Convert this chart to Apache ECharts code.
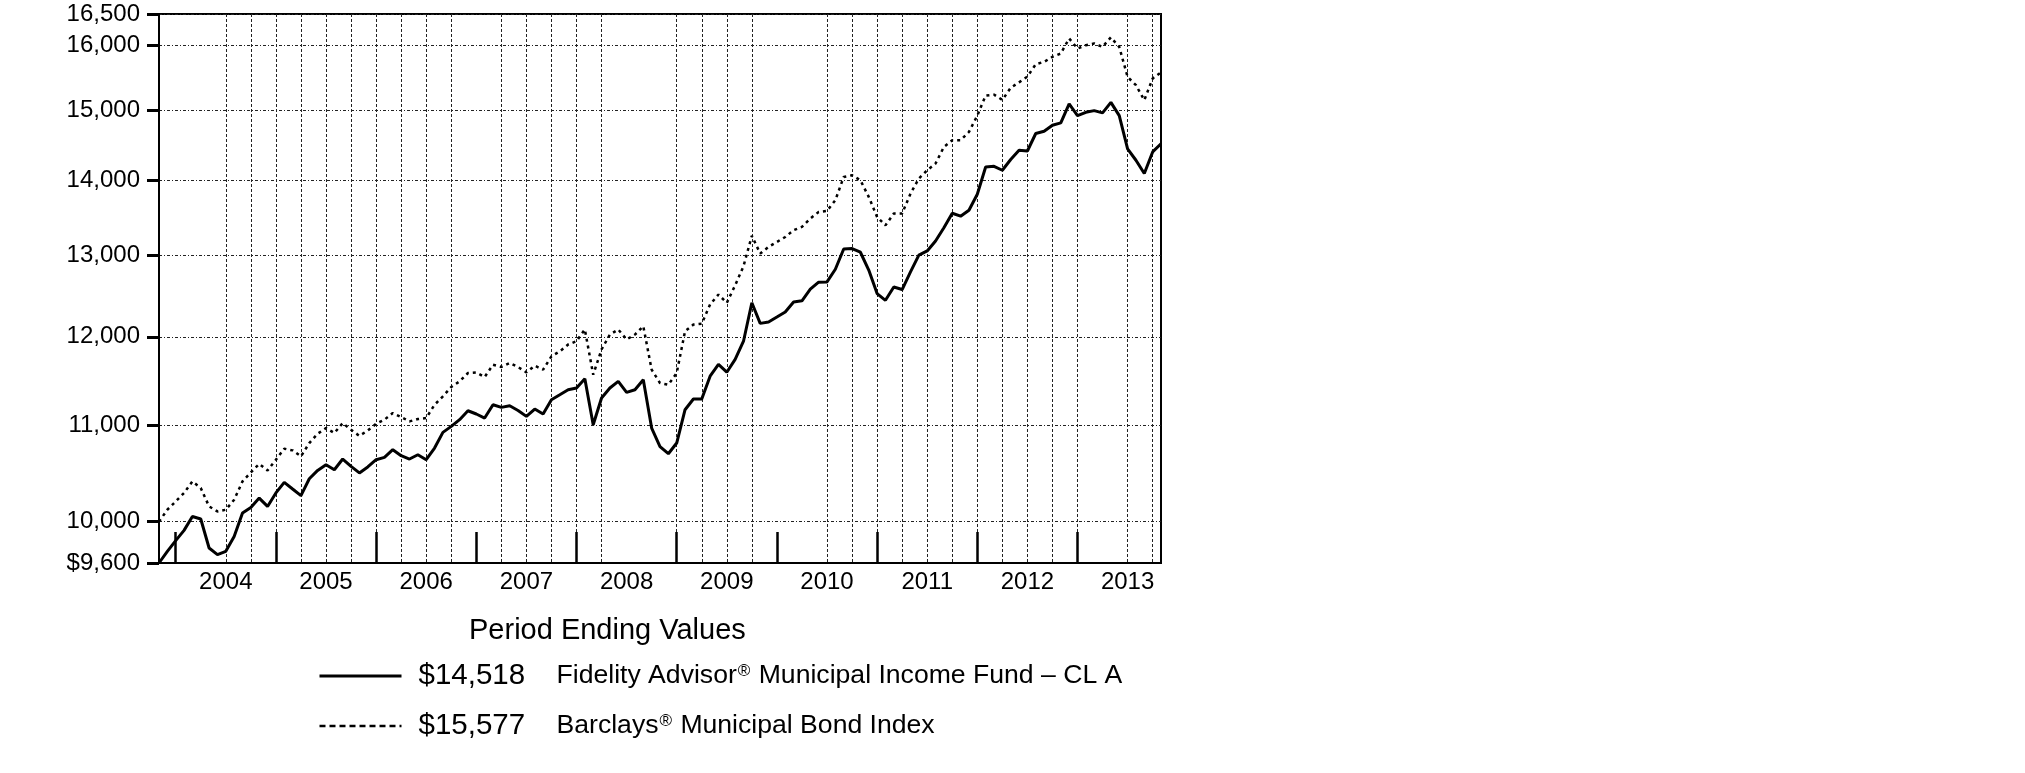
<!DOCTYPE html>
<html>
<head>
<meta charset="utf-8">
<script src="https://cdn.jsdelivr.net/npm/echarts@6/dist/echarts.min.js"></script>
<style>
html,body{margin:0;padding:0;background:#fff;}
#chart{width:2025px;height:773px;}
</style>
</head>
<body>
<div id="chart"></div>
<script>
// Month-end values, Oct 2003 .. Oct 2013
const fundValues = [
  9600, 9711, 9814, 9914, 10051, 10026, 9743, 9679, 9711, 9855,
  10085, 10141, 10235, 10151, 10287, 10395, 10327, 10260, 10432, 10518,
  10578, 10525, 10637, 10560, 10492, 10554, 10630, 10654, 10735, 10672,
  10637, 10682, 10630, 10753, 10920, 10985, 11058, 11156, 11120, 11076,
  11222, 11193, 11211, 11159, 11094, 11175, 11120, 11278, 11333, 11389,
  11409, 11514, 11003, 11297, 11409, 11484, 11360, 11389, 11503, 10967,
  10769, 10693, 10806, 11167, 11286, 11286, 11543, 11677, 11588, 11735,
  11948, 12410, 12160, 12177, 12237, 12298, 12419, 12434, 12577, 12664,
  12668, 12827, 13086, 13092, 13044, 12816, 12523, 12440, 12604, 12573,
  12793, 13006, 13061, 13189, 13363, 13556, 13516, 13596, 13812, 14189,
  14198, 14143, 14294, 14424, 14414, 14665, 14698, 14785, 14819, 15099,
  14926, 14975, 15000, 14966, 15123, 14926, 14444, 14283, 14097, 14401,
  14518
];
const indexValues = [
  10000, 10118, 10201, 10287, 10405, 10337, 10151, 10101, 10118, 10218,
  10405, 10498, 10585, 10518, 10630, 10746, 10728, 10665, 10806, 10906,
  10967, 10913, 11021, 10948, 10883, 10940, 11013, 11058, 11131, 11087,
  11039, 11065, 11076, 11222, 11315, 11420, 11484, 11579, 11586, 11533,
  11674, 11648, 11694, 11648, 11586, 11663, 11617, 11771, 11829, 11909,
  11948, 12087, 11560, 11851, 12027, 12087, 11968, 12027, 12126, 11617,
  11465, 11446, 11579, 12066, 12146, 12157, 12389, 12511, 12409, 12625,
  12866, 13258, 13027, 13113, 13177, 13242, 13331, 13374, 13485, 13573,
  13587, 13731, 14050, 14073, 14004, 13776, 13506, 13396, 13552, 13552,
  13821, 14028, 14143, 14237, 14472, 14568, 14568, 14688, 14926, 15224,
  15238, 15159, 15341, 15424, 15512, 15702, 15739, 15817, 15869, 16106,
  15948, 16000, 16027, 15973, 16124, 15973, 15507, 15381, 15155, 15483,
  15577
];
const startYear = 2003;
const startMonth = 10;
const months = [];
for (let i = 0; i < fundValues.length; i++) {
  const t = (startMonth - 1) + i;
  months.push((startYear + Math.floor(t / 12)) + '-' + String(t % 12 + 1).padStart(2, '0'));
}
const yTickValues = [9600, 10000, 11000, 12000, 13000, 14000, 15000, 16000, 16500];
const gridMonths = [
  '2004-06','2004-09','2004-12','2005-03','2005-06','2005-09','2005-12','2006-03','2006-06','2006-09',
  '2007-03','2007-06','2007-09','2007-12','2008-03','2008-12','2009-03','2009-06','2009-09',
  '2010-06','2010-09','2010-12','2011-03','2011-06','2011-09','2011-12','2012-03','2012-06','2012-09','2012-12',
  '2013-06','2013-09'
];
const fundName = 'Fidelity Advisor® Municipal Income Fund – CL A';
const indexName = 'Barclays® Municipal Bond Index';
const titleText = 'Period Ending Values';

const FONT = 'Liberation Sans, Arial, sans-serif';
const chart = echarts.init(document.getElementById('chart'), null, {renderer: 'canvas'});

const option = {
  animation: false,
  backgroundColor: '#fff',
  textStyle: {fontFamily: FONT, color: '#000'},
  title: {
    text: titleText, left: 469, top: 616, padding: 0,
    textStyle: {fontSize: 29, fontWeight: 'normal', color: '#000', fontFamily: FONT}
  },
  grid: {
    left: 159, top: 14, width: 1002, height: 549,
    show: true, borderColor: '#000', borderWidth: 2, backgroundColor: 'transparent',
    outerBoundsMode: 'none', containLabel: false
  },
  legend: {
    orient: 'vertical', left: 318, top: 661, padding: 0,
    itemWidth: 82, itemHeight: 20, itemGap: 20,
    data: [
      {name: fundName, lineStyle: {width: 3, type: 'solid'}, itemStyle: {opacity: 0, borderWidth: 0}},
      {name: indexName, lineStyle: {width: 2.5, type: [6, 4]}, itemStyle: {opacity: 0, borderWidth: 0}}
    ],
    formatter: function (name) {
      const vals = name === fundName ? fundValues : indexValues;
      const last = vals[vals.length - 1];
      const parts = name.split('®');
      return '{v|$' + last.toLocaleString('en-US') + '}{n|' + parts[0] + '}{s|®}{n|' + parts[1] + '}';
    },
    textStyle: {
      color: '#000',
      rich: {
        v: {fontSize: 29.5, fontFamily: FONT, color: '#000', width: 138, padding: [0, 0, 0, 12], lineHeight: 30},
        n: {fontSize: 26.6, fontFamily: FONT, color: '#000', lineHeight: 30},
        s: {fontSize: 17, fontFamily: FONT, color: '#000', verticalAlign: 'top', lineHeight: 17, padding: [2, 1, 0, 1]}
      }
    }
  },
  xAxis: {
    type: 'category', data: months, boundaryGap: false,
    axisLine: {show: true, lineStyle: {color: '#000', width: 2}},
    axisTick: {
      show: true, inside: true, length: 31,
      interval: function (i, v) { return v.endsWith('-12'); },
      lineStyle: {color: '#000', width: 2.5}
    },
    axisLabel: {
      interval: function (i, v) { return v.endsWith('-06'); },
      formatter: function (v) { return v.slice(0, 4); },
      color: '#000', fontSize: 24, fontFamily: FONT, margin: 7
    },
    splitLine: {
      show: true,
      interval: function (i, v) { return gridMonths.indexOf(v) >= 0; },
      lineStyle: {color: '#222', width: 1, type: [3, 2]}
    }
  },
  yAxis: {
    type: 'log', logBase: 10, min: 9600, max: 16500,
    axisLine: {show: true, lineStyle: {color: '#000', width: 2}},
    axisTick: {show: true, length: 12, customValues: yTickValues, lineStyle: {color: '#000', width: 3}},
    axisLabel: {
      customValues: yTickValues,
      formatter: function (v) {
        const r = Math.round(v);
        return (r === yTickValues[0] ? '$' : '') + r.toLocaleString('en-US');
      },
      color: '#000', fontSize: 24, fontFamily: FONT, margin: 19
    },
    splitLine: {show: true, lineStyle: {color: '#222', width: 1, type: [3, 2, 1, 2]}}
  },
  series: [
    {
      type: 'line', name: fundName, data: fundValues, symbol: 'none', z: 4,
      lineStyle: {color: '#000', width: 3}, itemStyle: {color: '#000'}
    },
    {
      type: 'line', name: indexName, data: indexValues, symbol: 'none', z: 3,
      lineStyle: {color: '#000', width: 2.5, type: [3, 4]}, itemStyle: {color: '#000'}
    }
  ]
};
chart.setOption(option);
</script>
</body>
</html>
